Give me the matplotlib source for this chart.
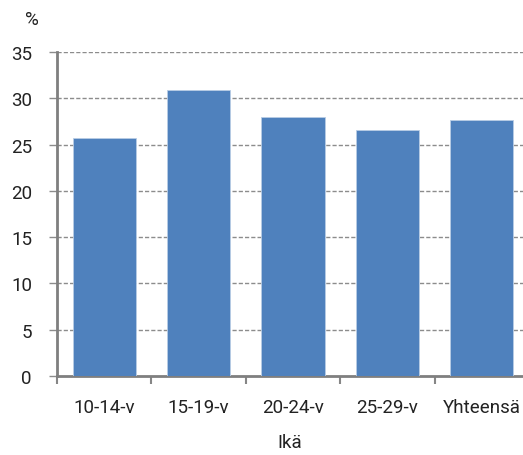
import matplotlib
matplotlib.use("Agg")
import matplotlib.pyplot as plt
import numpy as np

categories = ["10-14-v", "15-19-v", "20-24-v", "25-29-v", "Yhteensä"]
values = [25.7, 30.9, 28.0, 26.6, 27.7]
yticks = [0, 5, 10, 15, 20, 25, 30, 35]

plt.rcParams['font.family'] = ['Roboto', 'DejaVu Sans']
FS = 13.5

fig = plt.figure(figsize=(5.23, 4.56), dpi=100)
ax = fig.add_axes([57/523, 1-377/456, (529-57)/523, (377-53)/456])

x = np.arange(len(categories))
ax.bar(x, values, width=0.67, color="#4F81BD", edgecolor="#B9CDE5", linewidth=0.6, zorder=3)

ax.set_xlim(-0.5, len(categories) - 0.5)
ax.set_ylim(0, 35)
ax.set_yticks(yticks)
ax.set_yticklabels([str(t) for t in yticks], fontsize=FS, color="#222222")
for t in yticks[1:]:
    ax.axhline(t, color="#8C8C8C", linestyle=(0, (3, 1.5)), linewidth=1.0, zorder=1)

ax.set_xticks(x)
ax.set_xticklabels(categories, fontsize=FS, color="#222222")
ax.tick_params(axis='x', which='major', length=0, pad=16)
ax.set_xticks(np.arange(len(categories)) - 0.5, minor=True)
ax.tick_params(axis='x', which='minor', length=6, color="#868686", width=1.5, direction='out')
ax.tick_params(axis='y', length=6, color="#8C8C8C", width=1.0, pad=12)

for s in ["top", "right"]:
    ax.spines[s].set_visible(False)
for s in ["left", "bottom"]:
    ax.spines[s].set_color("#7F7F7F")
    ax.spines[s].set_linewidth(2)

fig.text(32/523, 1-20/456, "%", fontsize=FS, ha="center", va="center", color="#222222")
fig.text(290/523, 1-443/456, "Ikä", fontsize=FS, ha="center", va="center", color="#222222")

fig.savefig("out.png", dpi=100)
